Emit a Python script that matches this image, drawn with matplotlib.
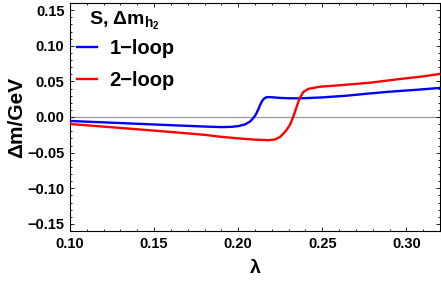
import matplotlib
matplotlib.use("Agg")
import matplotlib.pyplot as plt
from matplotlib.ticker import MultipleLocator

plt.rcParams['font.family'] = ['Liberation Sans', 'DejaVu Sans']
plt.rcParams['font.weight'] = 'bold'
plt.rcParams['mathtext.fontset'] = 'custom'
plt.rcParams['mathtext.rm'] = 'Liberation Sans:bold'
plt.rcParams['mathtext.bf'] = 'Liberation Sans:bold'
plt.rcParams['mathtext.it'] = 'Liberation Sans:bold'

lam_1loop = [0.100, 0.120, 0.140, 0.160, 0.180, 0.190, 0.196, 0.200, 0.204, 0.207,
             0.209, 0.2105, 0.212, 0.213, 0.214, 0.215, 0.2165, 0.218, 0.220, 0.225,
             0.230, 0.237, 0.250, 0.265, 0.278, 0.290, 0.305, 0.320]
dm_1loop = [-0.0056, -0.0075, -0.0095, -0.0115, -0.0134, -0.0142, -0.0138, -0.0128, -0.0105, -0.0065,
            -0.0015, 0.0035, 0.0110, 0.0165, 0.0215, 0.0250, 0.0275, 0.0280, 0.0277, 0.0268,
            0.0263, 0.0262, 0.0275, 0.0300, 0.0330, 0.0355, 0.0380, 0.0408]

lam_2loop = [0.100, 0.120, 0.140, 0.160, 0.180, 0.189, 0.200, 0.210, 0.218, 0.222,
             0.2249, 0.2270, 0.2288, 0.2308, 0.232, 0.233, 0.234, 0.235, 0.2367, 0.2387,
             0.2417, 0.2486, 0.260, 0.278, 0.295, 0.310, 0.320]
dm_2loop = [-0.0098, -0.0135, -0.0172, -0.0210, -0.0250, -0.0276, -0.0300, -0.0318, -0.0325, -0.0315,
            -0.0280, -0.0230, -0.0180, -0.0110, -0.0040, 0.0020, 0.0090, 0.0160, 0.0270, 0.0350,
            0.0395, 0.0425, 0.0445, 0.0480, 0.0530, 0.0570, 0.0605]

xticks = [0.10, 0.15, 0.20, 0.25, 0.30]
yticks = [-0.15, -0.10, -0.05, 0.00, 0.05, 0.10, 0.15]

fig = plt.figure(figsize=(4.41, 2.82), dpi=100)
ax = fig.add_axes([70/441, 1-231/282, 370/441, 228/282])

ax.axhline(0, color='#999999', lw=0.9, zorder=1)
ax.plot(lam_1loop, dm_1loop, color='#0000FF', lw=1.7, label='1\u2212loop', zorder=3)
ax.plot(lam_2loop, dm_2loop, color='#FF0000', lw=1.7, label='2\u2212loop', zorder=3)

ax.set_xlim(0.10, 0.32)
ax.set_ylim(-0.16, 0.16)
ax.set_xticks(xticks)
ax.set_yticks(yticks)
ax.set_xticklabels([f'{t:.2f}' for t in xticks])
ax.set_yticklabels([f'{t:.2f}'.replace('-', '\u2212') for t in yticks])
ax.xaxis.set_minor_locator(MultipleLocator(0.01))
ax.yaxis.set_minor_locator(MultipleLocator(0.01))
ax.tick_params(which='both', direction='in', top=True, right=True, labelsize=10.5, width=0.6)
ax.tick_params(which='major', length=3.0, pad=4)
ax.tick_params(which='minor', length=1.6)
for s in ax.spines.values():
    s.set_linewidth(0.8)

ax.set_xlabel('\u03bb', fontsize=14, fontweight='bold', labelpad=7)
ax.set_ylabel('\u0394m/GeV', fontsize=15, fontweight='bold', labelpad=1)

ax.text(0.146, 0.905, r'S, $\Delta$m$_{\mathbf{h}_{\mathbf{2}}}$', transform=ax.transAxes,
        ha='center', va='baseline', fontsize=14, fontweight='bold')

leg = ax.legend(loc='upper left', bbox_to_anchor=(0.019, 0.842), frameon=False,
                prop={'size': 14.5, 'weight': 'bold'},
                handlelength=1.0, handletextpad=0.6, labelspacing=0.65, borderpad=0, borderaxespad=0)

fig.savefig('out.png', dpi=100)
